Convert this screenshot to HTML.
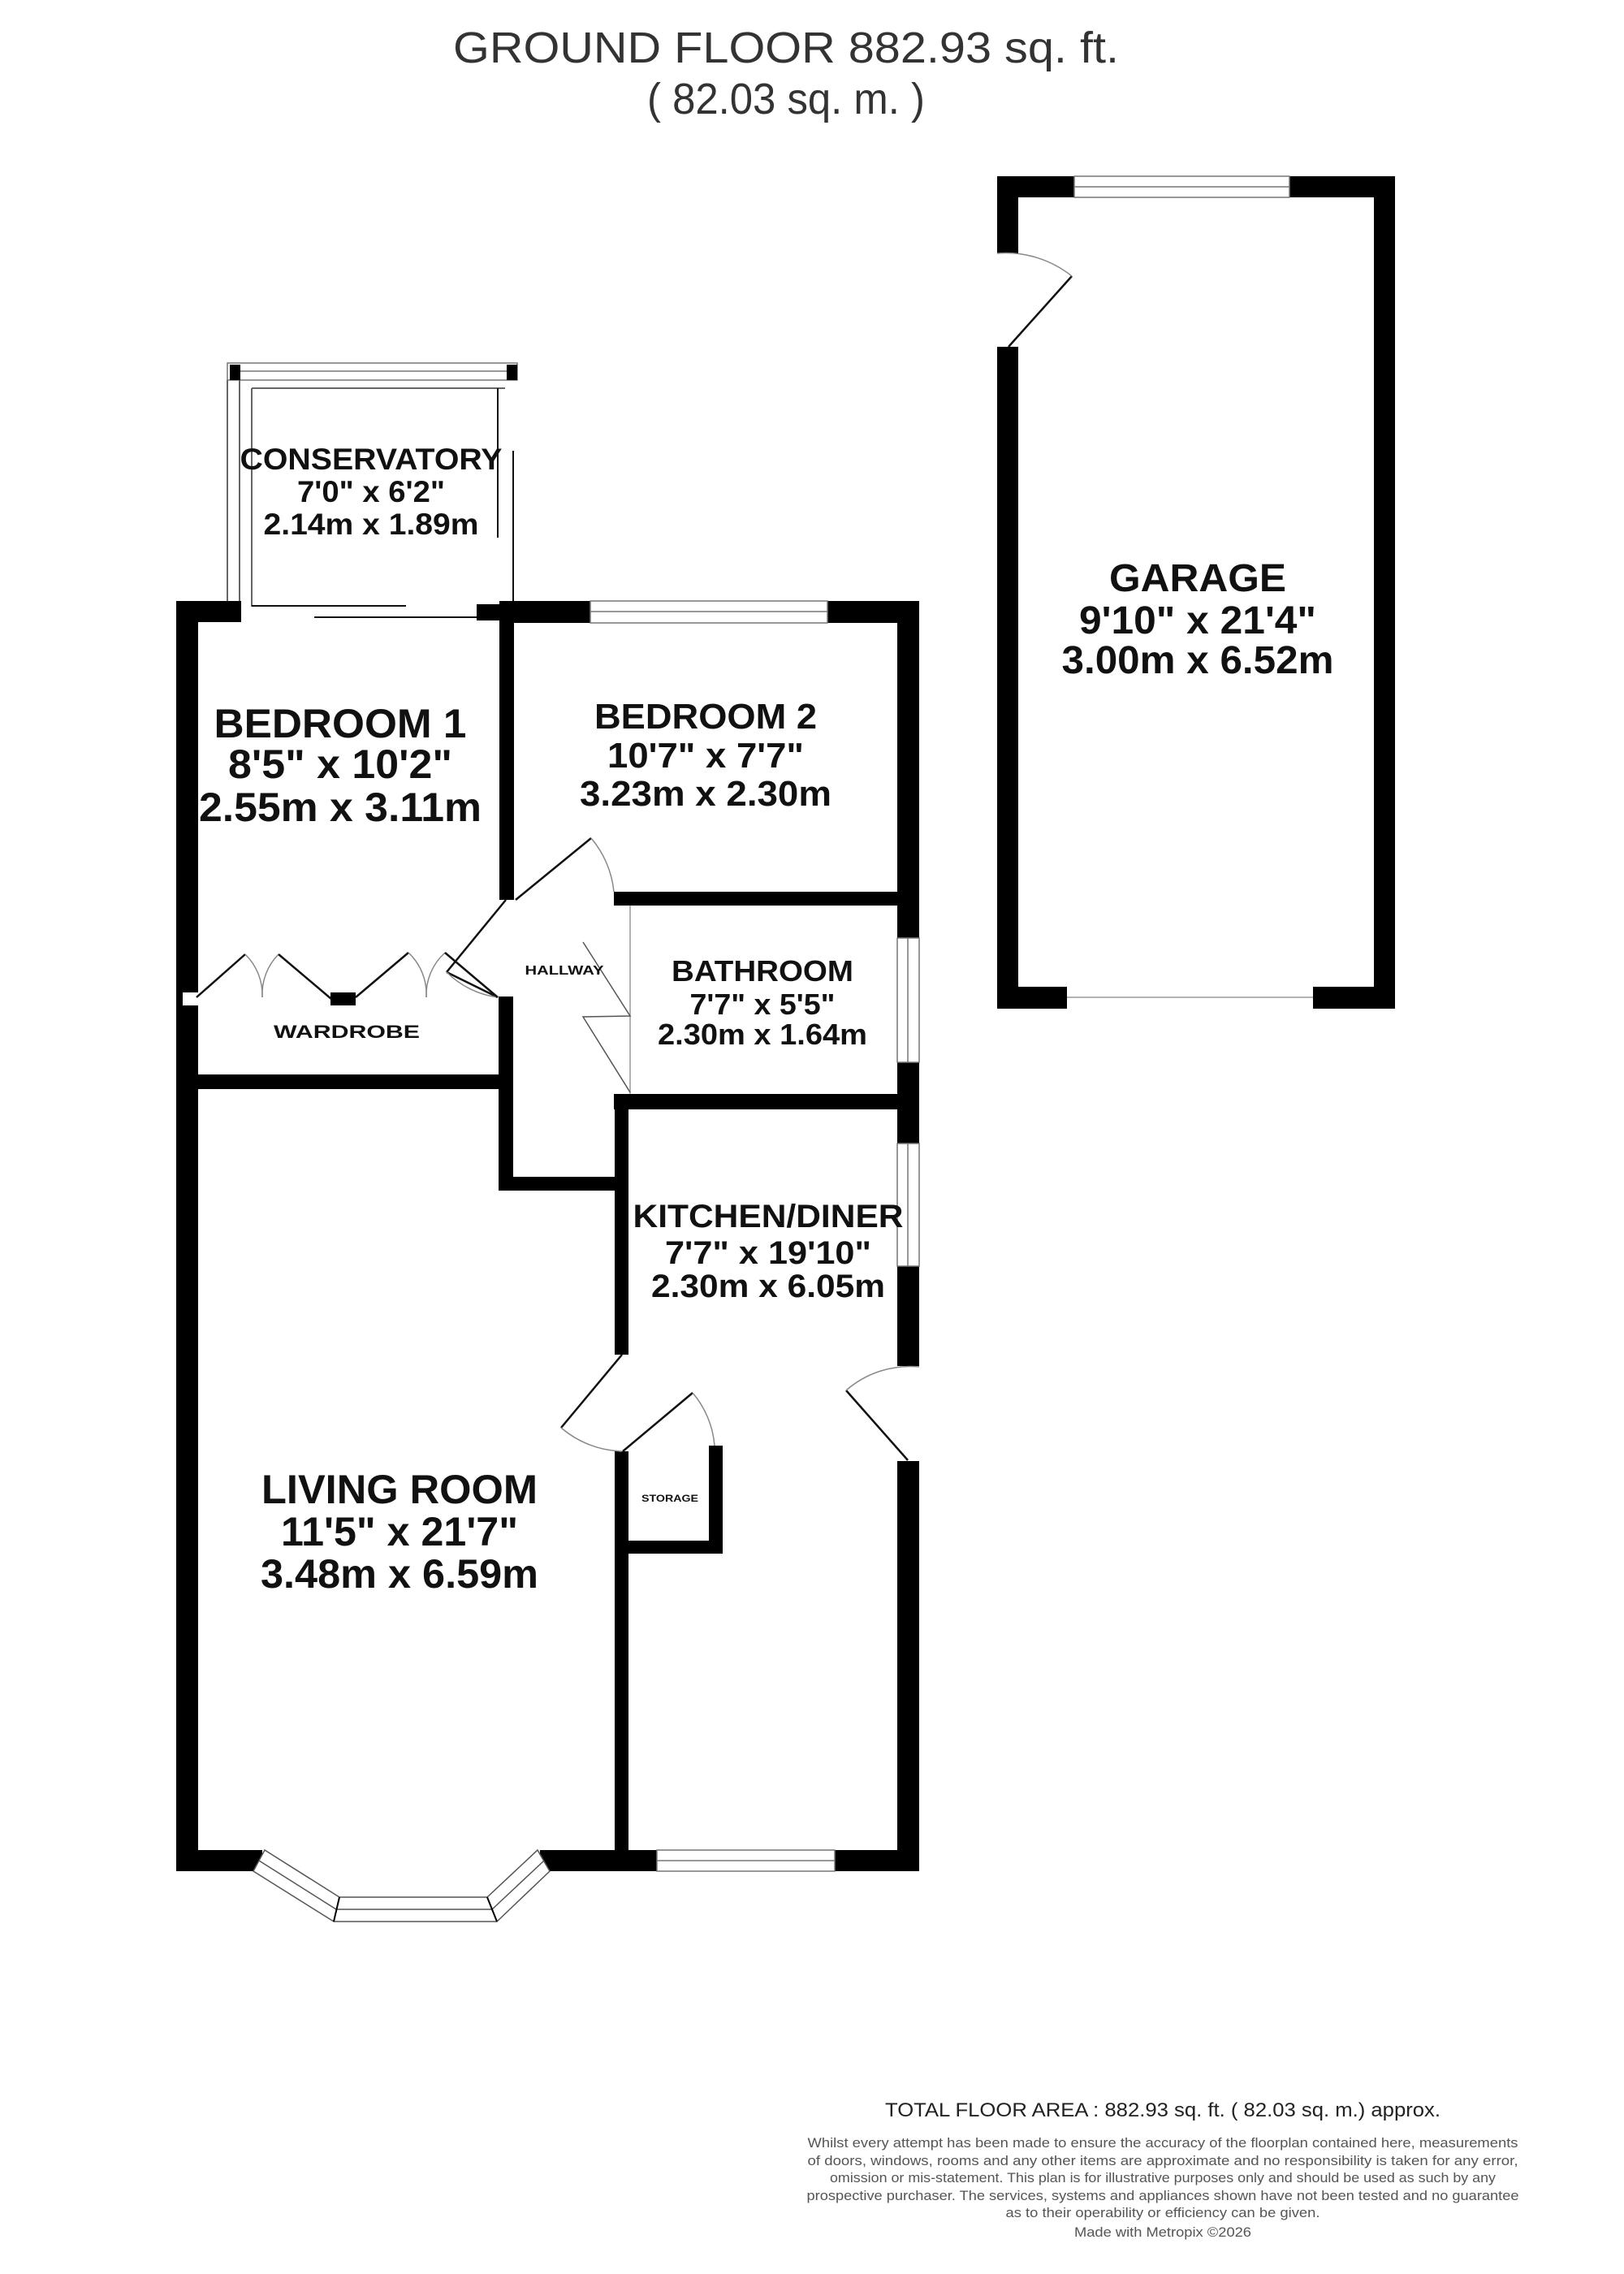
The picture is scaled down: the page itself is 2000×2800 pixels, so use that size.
<!DOCTYPE html>
<html><head><meta charset="utf-8"><style>
html,body{margin:0;padding:0;background:#fff;}
svg{display:block;}
text{font-family:"Liberation Sans",Arial,sans-serif;}
.b{font-weight:bold;fill:#111;}
.w{fill:#fff;stroke:#777;stroke-width:1.5;}
.l{stroke:#111;stroke-width:2.5;fill:none;}
.a{stroke:#888;stroke-width:1.5;fill:none;}
</style></head><body>
<svg width="2000" height="2800" viewBox="0 0 2000 2800" xmlns="http://www.w3.org/2000/svg">
<rect width="2000" height="2800" fill="#fff"/>

<!-- Title -->
<text x="968" y="77" font-size="54" fill="#333" text-anchor="middle" textLength="820" lengthAdjust="spacingAndGlyphs">GROUND FLOOR 882.93 sq. ft.</text>
<text x="968" y="140" font-size="54" fill="#333" text-anchor="middle" textLength="342" lengthAdjust="spacingAndGlyphs">( 82.03 sq. m. )</text>

<!-- ===== Conservatory ===== -->
<rect x="280" y="447" width="357" height="21" class="w"/>
<line x1="295" y1="457" x2="625" y2="457" stroke="#777" stroke-width="1.5"/>
<rect x="283" y="449" width="13" height="19" fill="#000"/>
<rect x="624" y="449" width="13" height="19" fill="#000"/>
<line x1="280" y1="468" x2="280" y2="747" stroke="#666" stroke-width="2"/>
<line x1="295" y1="468" x2="295" y2="747" stroke="#666" stroke-width="2"/>
<line x1="310" y1="478" x2="310" y2="747" stroke="#666" stroke-width="2"/>
<line x1="310" y1="478" x2="622" y2="478" stroke="#666" stroke-width="2"/>
<line x1="613" y1="478" x2="613" y2="662" stroke="#111" stroke-width="2"/>
<line x1="632" y1="555" x2="632" y2="770" stroke="#111" stroke-width="2"/>
<line x1="310" y1="746" x2="500" y2="746" stroke="#111" stroke-width="2"/>
<line x1="387" y1="760" x2="633" y2="760" stroke="#111" stroke-width="2"/>

<!-- ===== House walls ===== -->
<g fill="#000">
<!-- left outer wall -->
<rect x="217" y="740" width="27" height="482"/>
<rect x="217" y="1238" width="27" height="1066"/>
<!-- top wall bedroom1 -->
<rect x="217" y="740" width="80" height="26"/>
<rect x="587" y="744" width="46" height="20"/>
<!-- top wall bedroom2 -->
<rect x="631" y="740" width="96" height="27"/>
<rect x="1019" y="740" width="113" height="27"/>
<!-- bed1/bed2 divider -->
<rect x="615" y="740" width="18" height="368"/>
<!-- lower divider bed1/hall -->
<rect x="614" y="1227" width="18" height="239"/>
<!-- wardrobe wall -->
<rect x="217" y="1323" width="415" height="18"/>
<rect x="407" y="1222" width="31" height="16"/>
<!-- hallway bottom -->
<rect x="614" y="1449" width="160" height="17"/>
<!-- bed2/bath wall -->
<rect x="756" y="1098" width="376" height="17"/>
<!-- right outer wall -->
<rect x="1105" y="740" width="27" height="415"/>
<rect x="1105" y="1308" width="27" height="100"/>
<rect x="1105" y="1559" width="27" height="123"/>
<rect x="1105" y="1799" width="27" height="505"/>
<!-- bath bottom / kitchen top -->
<rect x="756" y="1347" width="376" height="19"/>
<!-- living/kitchen divider -->
<rect x="757" y="1347" width="17" height="321"/>
<rect x="757" y="1787" width="17" height="517"/>
<!-- storage -->
<rect x="873" y="1780" width="17" height="133"/>
<rect x="774" y="1897" width="116" height="16"/>
<!-- bottom wall -->
<rect x="217" y="2278" width="106" height="26"/>
<rect x="665" y="2278" width="144" height="26"/>
<rect x="1028" y="2278" width="104" height="26"/>
</g>
<!-- small notch on left wall -->
<rect x="217" y="1222" width="8" height="16" fill="#000"/>

<!-- windows -->
<rect x="727" y="740" width="292" height="27" class="w"/>
<line x1="727" y1="753" x2="1019" y2="753" stroke="#777" stroke-width="1.5"/>
<rect x="1105" y="1155" width="27" height="153" class="w"/>
<line x1="1118" y1="1155" x2="1118" y2="1308" stroke="#777" stroke-width="1.5"/>
<rect x="1105" y="1408" width="27" height="151" class="w"/>
<line x1="1118" y1="1408" x2="1118" y2="1559" stroke="#777" stroke-width="1.5"/>
<rect x="809" y="2278" width="219" height="26" class="w"/>
<line x1="809" y1="2291" x2="1028" y2="2291" stroke="#777" stroke-width="1.5"/>

<!-- bay window -->
<polygon points="326,2278 418,2336 600,2336 662,2278 677,2304 612,2366 411,2366 312,2304" fill="#fff" stroke="#555" stroke-width="1.5"/>
<polyline points="319,2291 414,2351 606,2351 670,2291" fill="none" stroke="#555" stroke-width="1.5"/>
<line x1="418" y1="2336" x2="411" y2="2366" stroke="#000" stroke-width="2"/>
<line x1="600" y1="2336" x2="612" y2="2366" stroke="#000" stroke-width="2"/>

<!-- ===== doors ===== -->
<!-- bedroom2 door -->
<line x1="635" y1="1108" x2="728" y2="1032" class="l"/>
<path d="M728,1032 A120,120 0 0 1 756,1098" class="a"/>
<!-- bedroom1 door -->
<line x1="623" y1="1108" x2="550" y2="1197" class="l"/>
<line x1="550" y1="1197" x2="613" y2="1228" class="l" stroke-width="2"/>
<path d="M550,1197 A110,110 0 0 0 613,1228" class="a"/>
<!-- wardrobe doors -->
<polyline points="242,1228 302,1175" class="l"/>
<path d="M302,1175 A70,70 0 0 1 323,1228" class="a"/>
<path d="M343,1175 A70,70 0 0 0 323,1228" class="a"/>
<polyline points="343,1175 408,1230" class="l"/>
<polyline points="438,1228 503,1173" class="l"/>
<path d="M503,1173 A70,70 0 0 1 525,1228" class="a"/>
<path d="M548,1173 A70,70 0 0 0 525,1228" class="a"/>
<polyline points="548,1173 613,1228" class="l"/>
<!-- bathroom door -->
<line x1="776" y1="1115" x2="776" y2="1347" stroke="#999" stroke-width="1.5"/>
<polyline points="718,1160 776,1251 718,1252 776,1345" fill="none" stroke="#555" stroke-width="1.5"/>
<!-- living door -->
<line x1="766" y1="1668" x2="691" y2="1758" class="l"/>
<path d="M691,1758 A120,120 0 0 0 766,1787" class="a"/>
<!-- storage door -->
<line x1="767" y1="1787" x2="853" y2="1715" class="l"/>
<path d="M853,1715 A115,115 0 0 1 880,1780" class="a"/>
<!-- kitchen back door -->
<line x1="1118" y1="1798" x2="1042" y2="1712" class="l"/>
<path d="M1042,1712 A120,120 0 0 1 1132,1683" class="a"/>

<!-- ===== Garage ===== -->
<g fill="#000">
<rect x="1228" y="217" width="95" height="26"/>
<rect x="1588" y="217" width="130" height="26"/>
<rect x="1228" y="217" width="26" height="95"/>
<rect x="1228" y="427" width="26" height="815"/>
<rect x="1692" y="217" width="26" height="1025"/>
<rect x="1228" y="1215" width="86" height="27"/>
<rect x="1617" y="1215" width="101" height="27"/>
</g>
<rect x="1323" y="217" width="265" height="26" class="w"/>
<line x1="1323" y1="230" x2="1588" y2="230" stroke="#777" stroke-width="1.5"/>
<line x1="1314" y1="1228" x2="1617" y2="1228" stroke="#999" stroke-width="1.5"/>
<line x1="1242" y1="427" x2="1320" y2="340" class="l"/>
<path d="M1228,312 A130,130 0 0 1 1320,340" class="a"/>

<!-- ===== Labels ===== -->
<g class="b" text-anchor="middle">
<text x="457" y="578" font-size="37" textLength="323" lengthAdjust="spacingAndGlyphs">CONSERVATORY</text>
<text x="457" y="618" font-size="37" textLength="182" lengthAdjust="spacingAndGlyphs">7'0" x 6'2"</text>
<text x="457" y="658" font-size="37" textLength="265" lengthAdjust="spacingAndGlyphs">2.14m x 1.89m</text>

<text x="419" y="908" font-size="50" textLength="311" lengthAdjust="spacingAndGlyphs">BEDROOM 1</text>
<text x="419" y="958" font-size="50" textLength="276" lengthAdjust="spacingAndGlyphs">8'5" x 10'2"</text>
<text x="419" y="1011" font-size="50" textLength="348" lengthAdjust="spacingAndGlyphs">2.55m x 3.11m</text>

<text x="869" y="897" font-size="44" textLength="274" lengthAdjust="spacingAndGlyphs">BEDROOM 2</text>
<text x="869" y="945" font-size="44" textLength="242" lengthAdjust="spacingAndGlyphs">10'7" x 7'7"</text>
<text x="869" y="992" font-size="44" textLength="310" lengthAdjust="spacingAndGlyphs">3.23m x 2.30m</text>

<text x="939" y="1208" font-size="36" textLength="224" lengthAdjust="spacingAndGlyphs">BATHROOM</text>
<text x="939" y="1249" font-size="36" textLength="179" lengthAdjust="spacingAndGlyphs">7'7" x 5'5"</text>
<text x="939" y="1286" font-size="36" textLength="258" lengthAdjust="spacingAndGlyphs">2.30m x 1.64m</text>

<text x="695" y="1200" font-size="16" textLength="97" lengthAdjust="spacingAndGlyphs">HALLWAY</text>
<text x="427" y="1278" font-size="22" textLength="180" lengthAdjust="spacingAndGlyphs">WARDROBE</text>
<text x="825" y="1849" font-size="12" textLength="70" lengthAdjust="spacingAndGlyphs">STORAGE</text>

<text x="946" y="1511" font-size="40" textLength="333" lengthAdjust="spacingAndGlyphs">KITCHEN/DINER</text>
<text x="946" y="1556" font-size="40" textLength="254" lengthAdjust="spacingAndGlyphs">7'7" x 19'10"</text>
<text x="946" y="1597" font-size="40" textLength="288" lengthAdjust="spacingAndGlyphs">2.30m x 6.05m</text>

<text x="492" y="1851" font-size="50" textLength="340" lengthAdjust="spacingAndGlyphs">LIVING ROOM</text>
<text x="492" y="1903" font-size="50" textLength="292" lengthAdjust="spacingAndGlyphs">11'5" x 21'7"</text>
<text x="492" y="1955" font-size="50" textLength="342" lengthAdjust="spacingAndGlyphs">3.48m x 6.59m</text>

<text x="1475" y="728" font-size="48" textLength="218" lengthAdjust="spacingAndGlyphs">GARAGE</text>
<text x="1475" y="780" font-size="48" textLength="292" lengthAdjust="spacingAndGlyphs">9'10" x 21'4"</text>
<text x="1475" y="829" font-size="48" textLength="335" lengthAdjust="spacingAndGlyphs">3.00m x 6.52m</text>
</g>

<!-- ===== Footer ===== -->
<g text-anchor="middle">
<text x="1432" y="2606" font-size="24" fill="#222" textLength="684" lengthAdjust="spacingAndGlyphs">TOTAL FLOOR AREA : 882.93 sq. ft. ( 82.03 sq. m.) approx.</text>
<text x="1432" y="2644" font-size="17" fill="#555" textLength="875" lengthAdjust="spacingAndGlyphs">Whilst every attempt has been made to ensure the accuracy of the floorplan contained here, measurements</text>
<text x="1432" y="2666" font-size="17" fill="#555" textLength="875" lengthAdjust="spacingAndGlyphs">of doors, windows, rooms and any other items are approximate and no responsibility is taken for any error,</text>
<text x="1432" y="2687" font-size="17" fill="#555" textLength="820" lengthAdjust="spacingAndGlyphs">omission or mis-statement. This plan is for illustrative purposes only and should be used as such by any</text>
<text x="1432" y="2709" font-size="17" fill="#555" textLength="877" lengthAdjust="spacingAndGlyphs">prospective purchaser. The services, systems and appliances shown have not been tested and no guarantee</text>
<text x="1432" y="2730" font-size="17" fill="#555" textLength="387" lengthAdjust="spacingAndGlyphs">as to their operability or efficiency can be given.</text>
<text x="1432" y="2754" font-size="17" fill="#555" textLength="218" lengthAdjust="spacingAndGlyphs">Made with Metropix ©2026</text>
</g>
</svg>
</body></html>
